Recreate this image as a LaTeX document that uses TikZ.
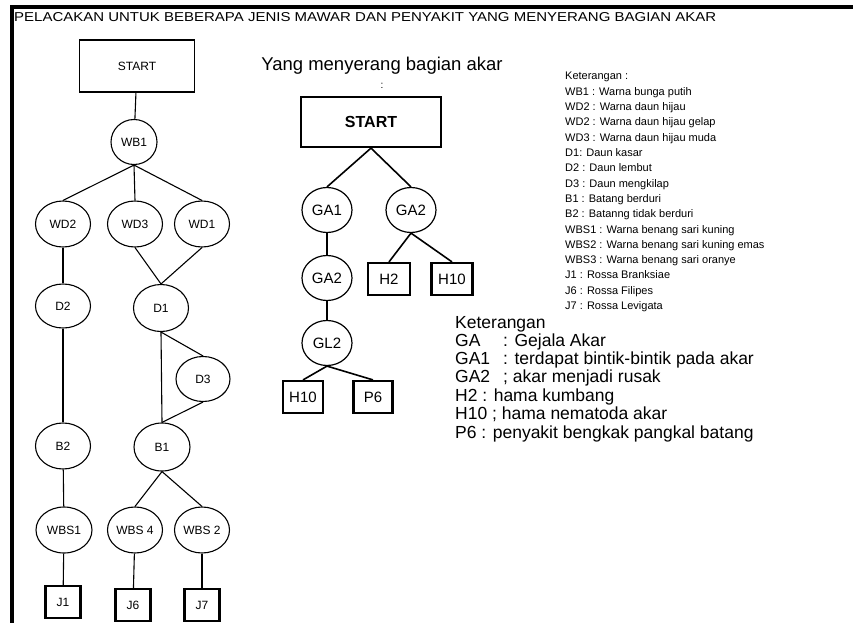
\documentclass[tikz,border=0pt]{standalone}
\usepackage{graphicx}
\usepackage{fontspec}
\setmainfont{Liberation Sans}
\usetikzlibrary{shapes.geometric}
\begin{document}
\begin{tikzpicture}[x=1pt,y=-1pt,
  ellL/.style={draw, ellipse, line width=1.1pt, minimum width=55pt, minimum height=46pt, inner sep=0pt, font=\fontsize{12}{13}\selectfont},
  boxL/.style={draw, rectangle, line width=2.2pt, minimum width=35pt, minimum height=32pt, inner sep=0pt, font=\fontsize{12}{13}\selectfont},
  ellM/.style={draw, ellipse, line width=1.2pt, minimum width=50pt, minimum height=45pt, inner sep=0pt, font=\fontsize{15}{16}\selectfont},
  boxM/.style={draw, rectangle, line width=2.2pt, minimum width=41pt, minimum height=32pt, inner sep=0pt, font=\fontsize{15}{16}\selectfont},
  edgeL/.style={line width=1.1pt},
  edgeM/.style={line width=1.6pt},
  legS/.style={anchor=base west, inner sep=0pt, font=\fontsize{11}{12}\selectfont},
  legB/.style={anchor=base west, inner sep=0pt, font=\fontsize{17.5}{18}\selectfont}
]
\useasboundingbox (0,0) rectangle (853,623);
\fill[white] (0,0) rectangle (853,623);
% frame
\draw[line width=4pt] (12,623) -- (12,7) -- (853,7);
% title
\node[anchor=west, inner sep=0pt] (title) at (14,17) {\resizebox{702pt}{9pt}{PELACAKAN UNTUK BEBERAPA JENIS MAWAR DAN PENYAKIT YANG MENYERANG BAGIAN AKAR}};

% ---------- left tree ----------
\node[draw, rectangle, line width=1.3pt, minimum width=115pt, minimum height=52pt, font=\fontsize{12}{13}\selectfont] (startL) at (137,66) {START};
\node[ellL, minimum width=46pt, minimum height=45pt] (wb1) at (134,142) {WB1};
\node[ellL] (wd2) at (63,224) {WD2};
\node[ellL] (wd3) at (135,224) {WD3};
\node[ellL] (wd1) at (202,224) {WD1};
\node[ellL, minimum height=44pt] (d2) at (63,306) {D2};
\node[ellL, minimum height=47pt] (d1) at (161,308) {D1};
\node[ellL, minimum width=54pt, minimum height=45pt] (d3) at (203,379) {D3};
\node[ellL] (b2) at (63,446) {B2};
\node[ellL, minimum width=56pt, minimum height=48pt] (b1) at (162,447) {B1};
\node[ellL, minimum width=56pt] (wbs1) at (64,530) {WBS1};
\node[ellL] (wbs4) at (135,530) {WBS 4};
\node[ellL] (wbs2) at (202,530) {WBS 2};
\node[boxL] (j1) at (63,602) {J1};
\node[boxL] (j6) at (133,605) {J6};
\node[boxL] (j7) at (202,605) {J7};

\draw[edgeL] (startL) -- (wb1);
\draw[edgeL] (wb1.south) -- (wd2.north);
\draw[edgeL] (wb1.south) -- (wd3.north);
\draw[edgeL] (wb1.south) -- (wd1.north);
\draw[edgeL] (wd2) -- (d2);
\draw[edgeL] (wd3.south) -- (d1.north);
\draw[edgeL] (wd1.south) -- (d1.north);
\draw[edgeL] (d1.south) -- (b1.north);
\draw[edgeL] (d1.south) -- (d3.north);
\draw[edgeL] (d3.south) -- (b1.north);
\draw[edgeL] (d2) -- (b2);
\draw[edgeL] (b2) -- (wbs1);
\draw[edgeL] (b1.south) -- (wbs4.north);
\draw[edgeL] (b1.south) -- (wbs2.north);
\draw[edgeL] (wbs1) -- (j1);
\draw[edgeL] (wbs4) -- (j6);
\draw[edgeL] (wbs2) -- (j7);

% ---------- middle tree ----------
\node[inner sep=0pt, font=\fontsize{18.5}{19}\selectfont] (mtitle) at (382,66) {Yang menyerang bagian akar};
\node[inner sep=0pt, font=\fontsize{10}{11}\selectfont] (mcolon) at (382,86) {:};
\node[draw, rectangle, line width=2.2pt, minimum width=140pt, minimum height=50pt, font=\fontsize{16}{17}\selectfont\bfseries] (startM) at (371,122) {START};
\node[ellM] (ga1) at (327,210) {GA1};
\node[ellM] (ga2r) at (411,210) {GA2};
\node[ellM] (ga2l) at (327,278) {GA2};
\node[ellM] (gl2) at (327,343) {GL2};
\node[boxM, minimum width=42pt] (h2) at (389,279) {H2};
\node[boxM] (h10r) at (452,279) {H10};
\node[boxM, minimum width=40pt] (h10b) at (303,397) {H10};
\node[boxM, minimum width=39pt] (p6) at (373,397) {P6};

\draw[edgeM] (startM.south) -- (ga1.north);
\draw[edgeM] (startM.south) -- (ga2r.north);
\draw[edgeM] (ga1) -- (ga2l);
\draw[edgeM] (ga2l) -- (gl2);
\draw[edgeM] (ga2r.south) -- (h2.north);
\draw[edgeM] (ga2r.south) -- (h10r.north);
\draw[edgeM] (gl2.south) -- (h10b.north);
\draw[edgeM] (gl2.south) -- (p6.north);

% ---------- legend top right (baselines) ----------
\node[legS] (k0) at (565,80.0) {Keterangan :};
\node[legS] (k1) at (565,95.3) {WB1 : Warna bunga putih};
\node[legS] (k2) at (565,110.6) {WD2 : Warna daun hijau};
\node[legS] (k3) at (565,125.9) {WD2 : Warna daun hijau gelap};
\node[legS] (k4) at (565,141.2) {WD3 : Warna daun hijau muda};
\node[legS] (k5) at (565,156.5) {D1: Daun kasar};
\node[legS] (k6) at (565,171.8) {D2 : Daun lembut};
\node[legS] (k7) at (565,187.1) {D3 : Daun mengkilap};
\node[legS] (k8) at (565,202.4) {B1 : Batang berduri};
\node[legS] (k9) at (565,217.7) {B2 : Batanng tidak berduri};
\node[legS] (k10) at (565,233.0) {WBS1 : Warna benang sari kuning};
\node[legS] (k11) at (565,248.3) {WBS2 : Warna benang sari kuning emas};
\node[legS] (k12) at (565,263.6) {WBS3 : Warna benang sari oranye};
\node[legS] (k13) at (565,278.9) {J1 : Rossa Branksiae};
\node[legS] (k14) at (565,294.2) {J6 : Rossa Filipes};
\node[legS] (k15) at (565,309.5) {J7 : Rossa Levigata};

% ---------- legend bottom (baselines) ----------
\node[legB] (g0) at (455,328) {Keterangan};
\node[legB] (g1) at (455,346) {GA};
\node[legB] (g1t) at (503,346) {: Gejala Akar};
\node[legB] (g2) at (455,364) {GA1};
\node[legB] (g2t) at (503,364) {: terdapat bintik-bintik pada akar};
\node[legB] (g3) at (455,382) {GA2};
\node[legB] (g3t) at (503,382) {; akar menjadi rusak};
\node[legB] (g4) at (455,401) {H2 : hama kumbang};
\node[legB] (g5) at (455,419) {H10 ; hama nematoda akar};
\node[legB] (g6) at (455,438) {P6 : penyakit bengkak pangkal batang};
\end{tikzpicture}
\end{document}
